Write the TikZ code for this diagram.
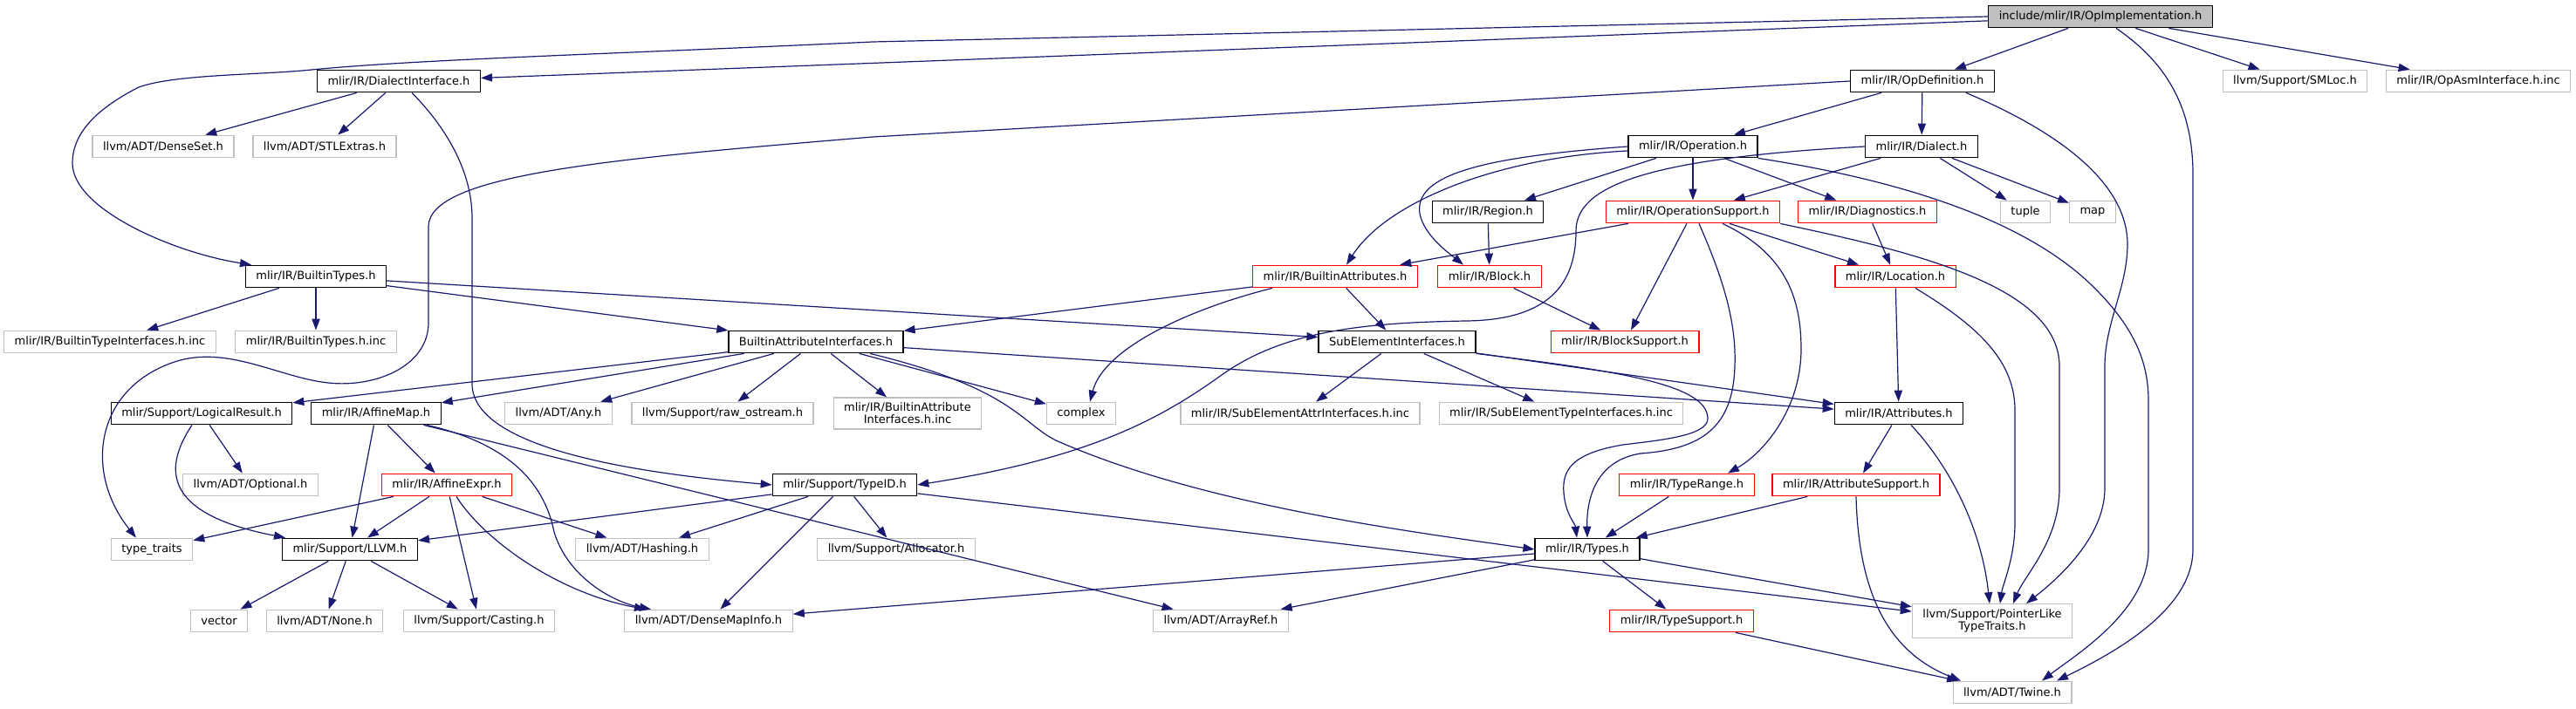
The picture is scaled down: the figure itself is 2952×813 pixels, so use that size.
\documentclass[tikz,border=0pt]{standalone}
\usepackage{fontspec}
\setmainfont{DejaVu Sans}
\usepackage{tikz}
\usetikzlibrary{arrows.meta}
\definecolor{nuit}{RGB}{25,25,112}
\definecolor{gris}{RGB}{191,191,191}
\definecolor{rouge}{RGB}{255,0,0}

\tikzset{
  fichier/.style={rectangle, draw, fill=white, inner xsep=6pt, inner ysep=3pt, minimum height=12.8pt,
    align=center, font=\fontsize{6.5}{7}\selectfont, line width=0.6pt},
  racine/.style={fichier, fill=gris, draw=black},
  doc/.style={fichier, draw=black},
  coupe/.style={fichier, draw=rouge},
  ext/.style={fichier, draw=gris},
  dep/.style={draw=nuit, line width=0.6pt, -{Triangle[length=6.5pt, width=4.6pt, fill=nuit]}}
}

\begin{document}
\begin{tikzpicture}[x=0.5pt, y=-0.5pt]
\useasboundingbox (0,0) rectangle (2952,813);

\node[racine] (oi) at (2407,19) {include/mlir/IR/OpImplementation.h};
\node[doc] (di) at (457,93) {mlir/IR/DialectInterface.h};
\node[doc] (opdef) at (2203,93) {mlir/IR/OpDefinition.h};
\node[ext] (smloc) at (2630,93) {llvm/Support/SMLoc.h};
\node[ext] (opasm) at (2840,93) {mlir/IR/OpAsmInterface.h.inc};
\node[ext] (denseset) at (187,168) {llvm/ADT/DenseSet.h};
\node[ext] (stlextras) at (372,168) {llvm/ADT/STLExtras.h};
\node[doc] (operation) at (1940,168) {mlir/IR/Operation.h};
\node[doc] (dialect) at (2202,168) {mlir/IR/Dialect.h};
\node[doc] (region) at (1705,243) {mlir/IR/Region.h};
\node[coupe] (opsupport) at (1940,243) {mlir/IR/OperationSupport.h};
\node[coupe] (diagnostics) at (2140,243) {mlir/IR/Diagnostics.h};
\node[ext] (tuple) at (2321,243) {tuple};
\node[ext] (map) at (2398,243) {map};
\node[doc] (btypes) at (362,317) {mlir/IR/BuiltinTypes.h};
\node[coupe] (battr) at (1530,317) {mlir/IR/BuiltinAttributes.h};
\node[coupe] (block) at (1707,317) {mlir/IR/Block.h};
\node[coupe] (location) at (2172,317) {mlir/IR/Location.h};
\node[ext] (btiinc) at (126,392) {mlir/IR/BuiltinTypeInterfaces.h.inc};
\node[ext] (btinc) at (362,392) {mlir/IR/BuiltinTypes.h.inc};
\node[doc] (bai) at (935,392) {BuiltinAttributeInterfaces.h};
\node[doc] (subelem) at (1601,392) {SubElementInterfaces.h};
\node[coupe] (blocksupport) at (1862,392) {mlir/IR/BlockSupport.h};
\node[doc] (logres) at (231,474) {mlir/Support/LogicalResult.h};
\node[doc] (affmap) at (431,474) {mlir/IR/AffineMap.h};
\node[ext] (any) at (640,474) {llvm/ADT/Any.h};
\node[ext] (rawos) at (828,474) {llvm/Support/raw\_ostream.h};
\node[ext] (baiinc) at (1040,474) {mlir/IR/BuiltinAttribute\\Interfaces.h.inc};
\node[ext] (complex) at (1239,474) {complex};
\node[ext] (seattr) at (1490,474) {mlir/IR/SubElementAttrInterfaces.h.inc};
\node[ext] (setype) at (1789,474) {mlir/IR/SubElementTypeInterfaces.h.inc};
\node[doc] (attributes) at (2176,474) {mlir/IR/Attributes.h};
\node[ext] (optional) at (287,556) {llvm/ADT/Optional.h};
\node[coupe] (affexpr) at (512,556) {mlir/IR/AffineExpr.h};
\node[doc] (typeid) at (968,556) {mlir/Support/TypeID.h};
\node[coupe] (typerange) at (1933,556) {mlir/IR/TypeRange.h};
\node[coupe] (attrsupport) at (2127,556) {mlir/IR/AttributeSupport.h};
\node[ext] (typetraits) at (174,630) {type\_traits};
\node[doc] (llvm) at (401,630) {mlir/Support/LLVM.h};
\node[ext] (hashing) at (736,630) {llvm/ADT/Hashing.h};
\node[ext] (allocator) at (1027,630) {llvm/Support/Allocator.h};
\node[doc] (types) at (1819,630) {mlir/IR/Types.h};
\node[ext] (vector) at (251,712) {vector};
\node[ext] (none) at (372,712) {llvm/ADT/None.h};
\node[ext] (casting) at (549,712) {llvm/Support/Casting.h};
\node[ext] (dmi) at (812,712) {llvm/ADT/DenseMapInfo.h};
\node[ext] (arrayref) at (1399,712) {llvm/ADT/ArrayRef.h};
\node[coupe] (typesupport) at (1927,712) {mlir/IR/TypeSupport.h};
\node[ext] (pointerlike) at (2283,712) {llvm/Support/PointerLike\\TypeTraits.h};
\node[ext] (twine) at (2306,794) {llvm/ADT/Twine.h};

\foreach \a/\b in {oi/di, oi/opdef, oi/smloc, oi/opasm, di/denseset, di/stlextras,
  opdef/operation, opdef/dialect, operation/region, operation/opsupport, operation/diagnostics,
  dialect/opsupport, dialect/tuple, dialect/map, btypes/btiinc, btypes/btinc, btypes/bai, btypes/subelem,
  opsupport/battr, opsupport/blocksupport, opsupport/location, region/block, block/blocksupport,
  diagnostics/location, battr/bai, battr/subelem, bai/logres, bai/affmap, bai/any, bai/rawos,
  bai/baiinc, bai/complex, bai/attributes, subelem/seattr, subelem/setype, subelem/attributes,
  location/attributes, attributes/attrsupport, logres/optional, affmap/affexpr, affmap/llvm,
  affmap/arrayref, affexpr/typetraits, affexpr/llvm, affexpr/casting, affexpr/hashing,
  typeid/llvm, typeid/hashing, typeid/dmi, typeid/allocator, typeid/pointerlike,
  typerange/types, attrsupport/types, types/dmi, types/arrayref, types/typesupport,
  types/pointerlike, llvm/vector, llvm/none, llvm/casting, typesupport/twine}
  \draw[dep] (\a) -- (\b);

\draw[dep] (oi.west) -- (1000,48) .. controls (700,62) and (480,68) .. (357,80)
  .. controls (300,86) and (200,85) .. (159,100) .. controls (100,130) and (83,160) .. (83,187)
  .. controls (83,240) and (200,290) .. ([xshift=-37]btypes.north);
\draw[dep] ([xshift=9]oi.south) .. controls (2480,70) and (2513,120) .. (2513,200) -- (2513,630)
  .. controls (2513,700) and (2420,750) .. ([xshift=25.5]twine.north);
\draw[dep] ([xshift=7.5]di.south) .. controls (515,150) and (541,200) .. (541,250) -- (541,440)
  .. controls (541,520) and (760,545) .. (typeid.west);
\draw[dep] (opdef.west) -- (1000,157) .. controls (700,182) and (491,200) .. (491,260) -- (491,370)
  .. controls (491,420) and (430,445) .. (376,439) .. controls (320,433) and (260,395) .. (200,415)
  .. controls (110,445) and (95,540) .. ([xshift=-9]typetraits.north);
\draw[dep] ([xshift=25]opdef.south) .. controls (2380,160) and (2438,220) .. (2438,280)
  .. controls (2438,330) and (2412,370) .. (2412,420) -- (2412,560)
  .. controls (2412,620) and (2350,670) .. ([xshift=19.5]pointerlike.north);
\draw[dep] (operation.south east) .. controls (2200,210) and (2330,260) .. (2400,330)
  .. controls (2450,380) and (2462,420) .. (2462,460) -- (2462,630)
  .. controls (2462,700) and (2380,750) .. ([xshift=17]twine.north);
\draw[dep] (dialect.west) .. controls (1880,182) and (1806,215) .. (1806,265)
  .. controls (1806,330) and (1770,367) .. (1680,368) .. controls (1560,370) and (1470,380) .. (1400,430)
  .. controls (1330,480) and (1250,525) .. (typeid.east);
\draw[dep] ([yshift=-2.5]operation.west) .. controls (1720,180) and (1590,230) .. ([xshift=6.5]battr.north);
\draw[dep] (operation.west) .. controls (1700,180) and (1620,200) .. (1627,245)
  .. controls (1632,270) and (1660,290) .. ([xshift=-15]block.north);
\draw[dep] ([xshift=3.5]opsupport.south) .. controls (1975,320) and (1990,370) .. (1988,420)
  .. controls (1986,490) and (1950,515) .. (1880,520) .. controls (1830,528) and (1818,570) .. (types.north);
\draw[dep] (subelem.south east) .. controls (1850,425) and (1957,440) .. (1957,480)
  .. controls (1957,500) and (1900,505) .. (1860,510) .. controls (1800,520) and (1790,540) .. (1792,565)
  .. controls (1794,590) and (1805,600) .. ([xshift=-6]types.north);
\draw[dep] ([xshift=17]opsupport.south) .. controls (2045,290) and (2064,340) .. (2064,400)
  .. controls (2064,470) and (2020,520) .. ([xshift=23.5]typerange.north);
\draw[dep] (opsupport.south east) .. controls (2200,290) and (2360,330) .. (2360,420) -- (2360,560)
  .. controls (2360,620) and (2320,660) .. ([xshift=12]pointerlike.north);
\draw[dep] ([xshift=11.5]location.south) .. controls (2260,370) and (2309,410) .. (2309,470) -- (2309,600)
  .. controls (2309,640) and (2295,670) .. ([xshift=4.5]pointerlike.north);
\draw[dep] ([xshift=7]attributes.south) .. controls (2230,530) and (2270,600) .. ([xshift=-1.5]pointerlike.north);
\draw[dep] (attrsupport.south) .. controls (2130,690) and (2170,750) .. ([xshift=-29.5]twine.north);
\draw[dep] ([xshift=31]bai.south) .. controls (1160,445) and (1170,485) .. (1210,505)
  .. controls (1380,580) and (1620,610) .. (types.west);
\draw[dep] ([xshift=-36]battr.south) .. controls (1360,355) and (1265,400) .. ([xshift=5]complex.north);
\draw[dep] ([xshift=-5.5]logres.south) .. controls (185,540) and (190,590) .. ([xshift=-37]llvm.north);
\draw[dep] ([xshift=29]affmap.south) .. controls (590,510) and (625,560) .. (635,610)
  .. controls (650,660) and (700,690) .. ([xshift=-33]dmi.north);
\draw[dep] ([xshift=5.5]affexpr.south) .. controls (555,620) and (640,680) .. ([xshift=-36]dmi.north);
\end{tikzpicture}
\end{document}
